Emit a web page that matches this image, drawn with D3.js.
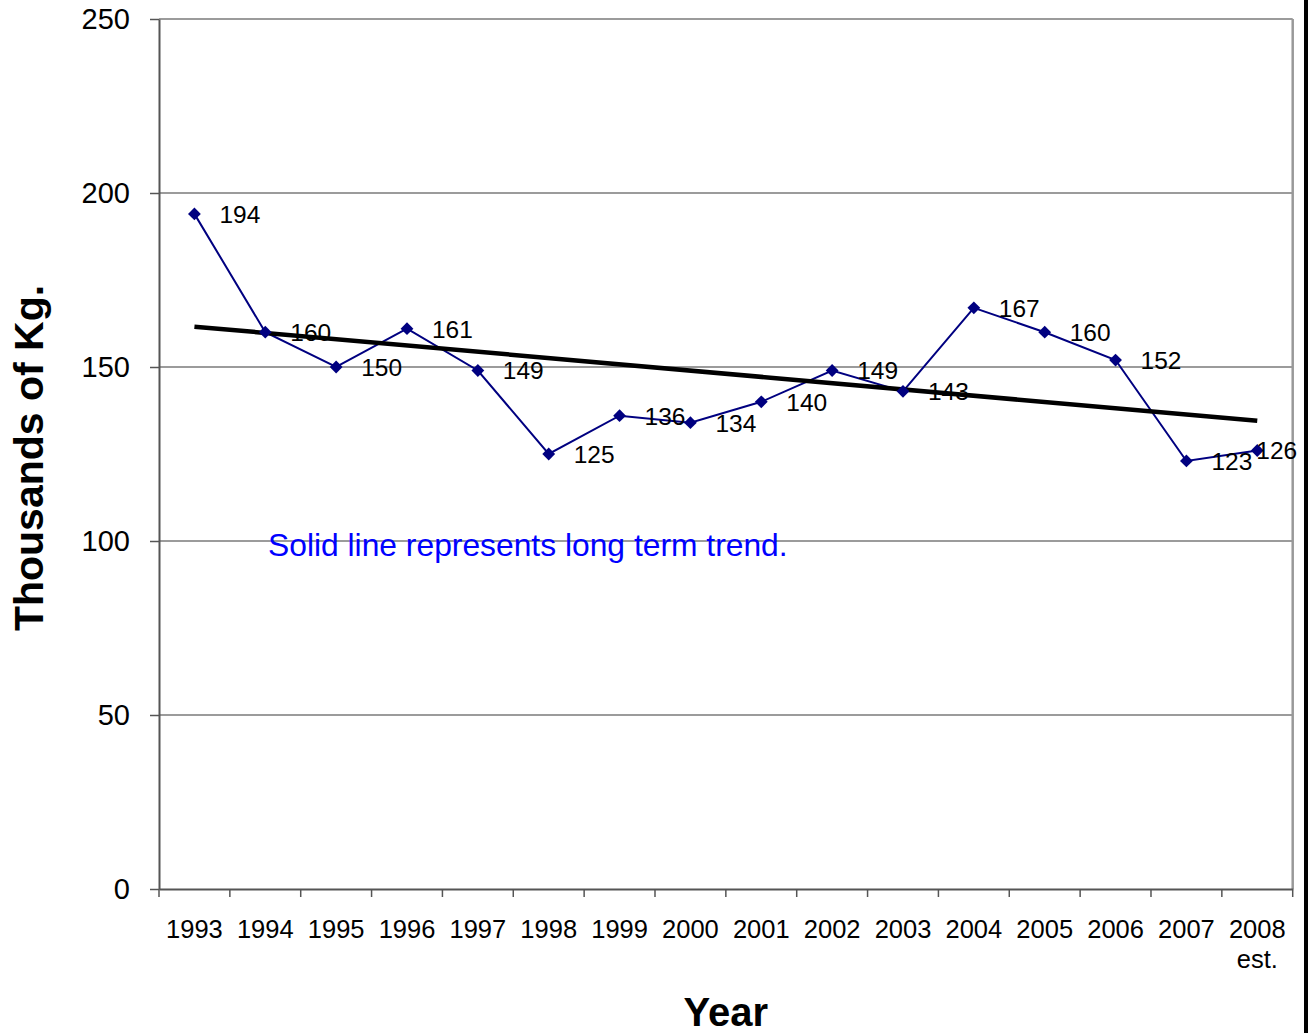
<!DOCTYPE html>
<html>
<head>
<meta charset="utf-8">
<script src="https://cdn.jsdelivr.net/npm/d3@7"></script>
<style>
  html, body { margin: 0; padding: 0; background: #fff; }
  svg { display: block; }
  text { font-family: Arial, "Liberation Sans", sans-serif; }
</style>
</head>
<body>
<svg id="chart" width="1308" height="1033"></svg>
<script>
// Annual catch, thousands of kg
const years = ["1993", "1994", "1995", "1996", "1997", "1998", "1999", "2000",
               "2001", "2002", "2003", "2004", "2005", "2006", "2007", "2008"];
const yearSubLabels = { "2008": "est." };
const catchValues = [194, 160, 150, 161, 149, 125, 136, 134,
                     140, 149, 143, 167, 160, 152, 123, 126];
const yTicks = [0, 50, 100, 150, 200, 250];
const note = "Solid line represents long term trend.";

const svg = d3.select("#chart");
const plot = { left: 159, right: 1292.7, top: 19, bottom: 889 };

const x = d3.scaleBand().domain(years).range([plot.left, plot.right]).padding(0);
const y = d3.scaleLinear().domain([0, 250]).range([plot.bottom, plot.top]);
const cx = d => x(d) + x.bandwidth() / 2;

// Horizontal gridlines
svg.append("g")
  .selectAll("line")
  .data(yTicks.filter(t => t > 0))
  .join("line")
  .attr("x1", plot.left).attr("x2", plot.right)
  .attr("y1", d => y(d)).attr("y2", d => y(d))
  .attr("stroke", "#7a7a7a").attr("stroke-width", 1.4);

// Right border of plot area
svg.append("line")
  .attr("x1", plot.right).attr("x2", plot.right)
  .attr("y1", plot.top).attr("y2", plot.bottom)
  .attr("stroke", "#999").attr("stroke-width", 2.5);

// Y axis
const yAxis = svg.append("g")
  .attr("transform", `translate(${plot.left},0)`)
  .call(d3.axisLeft(y).tickValues(yTicks).tickSize(9).tickPadding(20).tickSizeOuter(0));
yAxis.select(".domain").attr("stroke", "#555").attr("stroke-width", 2);
yAxis.selectAll(".tick line").attr("stroke", "#555").attr("stroke-width", 1.5);
yAxis.selectAll(".tick text")
  .attr("font-size", 29).attr("fill", "#000")
  .attr("font-family", "Arial, 'Liberation Sans', sans-serif");

// X axis: labels centred on categories, ticks on category boundaries
const xAxis = svg.append("g")
  .attr("transform", `translate(0,${plot.bottom})`)
  .call(d3.axisBottom(x).tickSize(0).tickPadding(31).tickSizeOuter(0));
xAxis.select(".domain").attr("stroke", "#555").attr("stroke-width", 2);
xAxis.selectAll(".tick text")
  .attr("font-size", 25.5).attr("fill", "#000")
  .attr("font-family", "Arial, 'Liberation Sans', sans-serif")
  .each(function (d) {
    if (yearSubLabels[d]) {
      d3.select(this).append("tspan")
        .attr("x", 0).attr("dy", "1.18em").text(yearSubLabels[d]);
    }
  });
const boundaries = years.map(d => x(d)).concat([plot.right]);
svg.append("g")
  .selectAll("line")
  .data(boundaries)
  .join("line")
  .attr("x1", d => d).attr("x2", d => d)
  .attr("y1", plot.bottom).attr("y2", plot.bottom + 8)
  .attr("stroke", "#555").attr("stroke-width", 1.5);

// Long-term trend (least-squares fit over the series)
const n = catchValues.length;
const idx = d3.range(n);
const mx = d3.mean(idx), my = d3.mean(catchValues);
const slope = d3.sum(idx, i => (i - mx) * (catchValues[i] - my)) /
              d3.sum(idx, i => (i - mx) * (i - mx));
const intercept = my - slope * mx;
const trend = [0, n - 1].map(i => ({ year: years[i], v: intercept + slope * i }));

// Data series line
const pts = years.map((yr, i) => ({ year: yr, v: catchValues[i] }));
svg.append("path")
  .datum(pts)
  .attr("fill", "none")
  .attr("stroke", "#000080")
  .attr("stroke-width", 2)
  .attr("d", d3.line().x(d => cx(d.year)).y(d => y(d.v)));

// Trend line drawn over the series
svg.append("path")
  .datum(trend)
  .attr("fill", "none")
  .attr("stroke", "#000")
  .attr("stroke-width", 4.5)
  .attr("d", d3.line().x(d => cx(d.year)).y(d => y(d.v)));

// Diamond markers
svg.append("g")
  .selectAll("path")
  .data(pts)
  .join("path")
  .attr("transform", d => `translate(${cx(d.year)},${y(d.v)}) rotate(45)`)
  .attr("d", d3.symbol(d3.symbolSquare, 82)())
  .attr("fill", "#000080");

// Value labels to the right of each point, kept inside the chart edge
const labelLimit = plot.right + 4.5;
svg.append("g")
  .selectAll("text")
  .data(pts)
  .join("text")
  .attr("x", d => cx(d.year) + 25)
  .attr("y", d => y(d.v))
  .attr("dy", "0.36em")
  .attr("font-size", 24.5)
  .attr("fill", "#000")
  .text(d => d.v)
  .each(function (d) {
    const w = this.getComputedTextLength();
    const x0 = cx(d.year) + 25;
    if (x0 + w > labelLimit) d3.select(this).attr("x", labelLimit - w);
  });

// Note
svg.append("text")
  .attr("x", 268).attr("y", 556)
  .attr("font-size", 31.8)
  .attr("fill", "#0000ff")
  .text(note);

// Axis titles
svg.append("text")
  .attr("x", (plot.left + plot.right) / 2).attr("y", 1026)
  .attr("text-anchor", "middle")
  .attr("font-size", 40).attr("font-weight", "bold")
  .text("Year");
svg.append("text")
  .attr("transform", `translate(43,${(plot.top + plot.bottom) / 2 + 4}) rotate(-90)`)
  .attr("text-anchor", "middle")
  .attr("font-size", 41).attr("font-weight", "bold")
  .text("Thousands of Kg.");

// Frame edge at right
svg.append("rect")
  .attr("x", 1304).attr("y", 0).attr("width", 4).attr("height", 1033)
  .attr("fill", "#000");
</script>
</body>
</html>
